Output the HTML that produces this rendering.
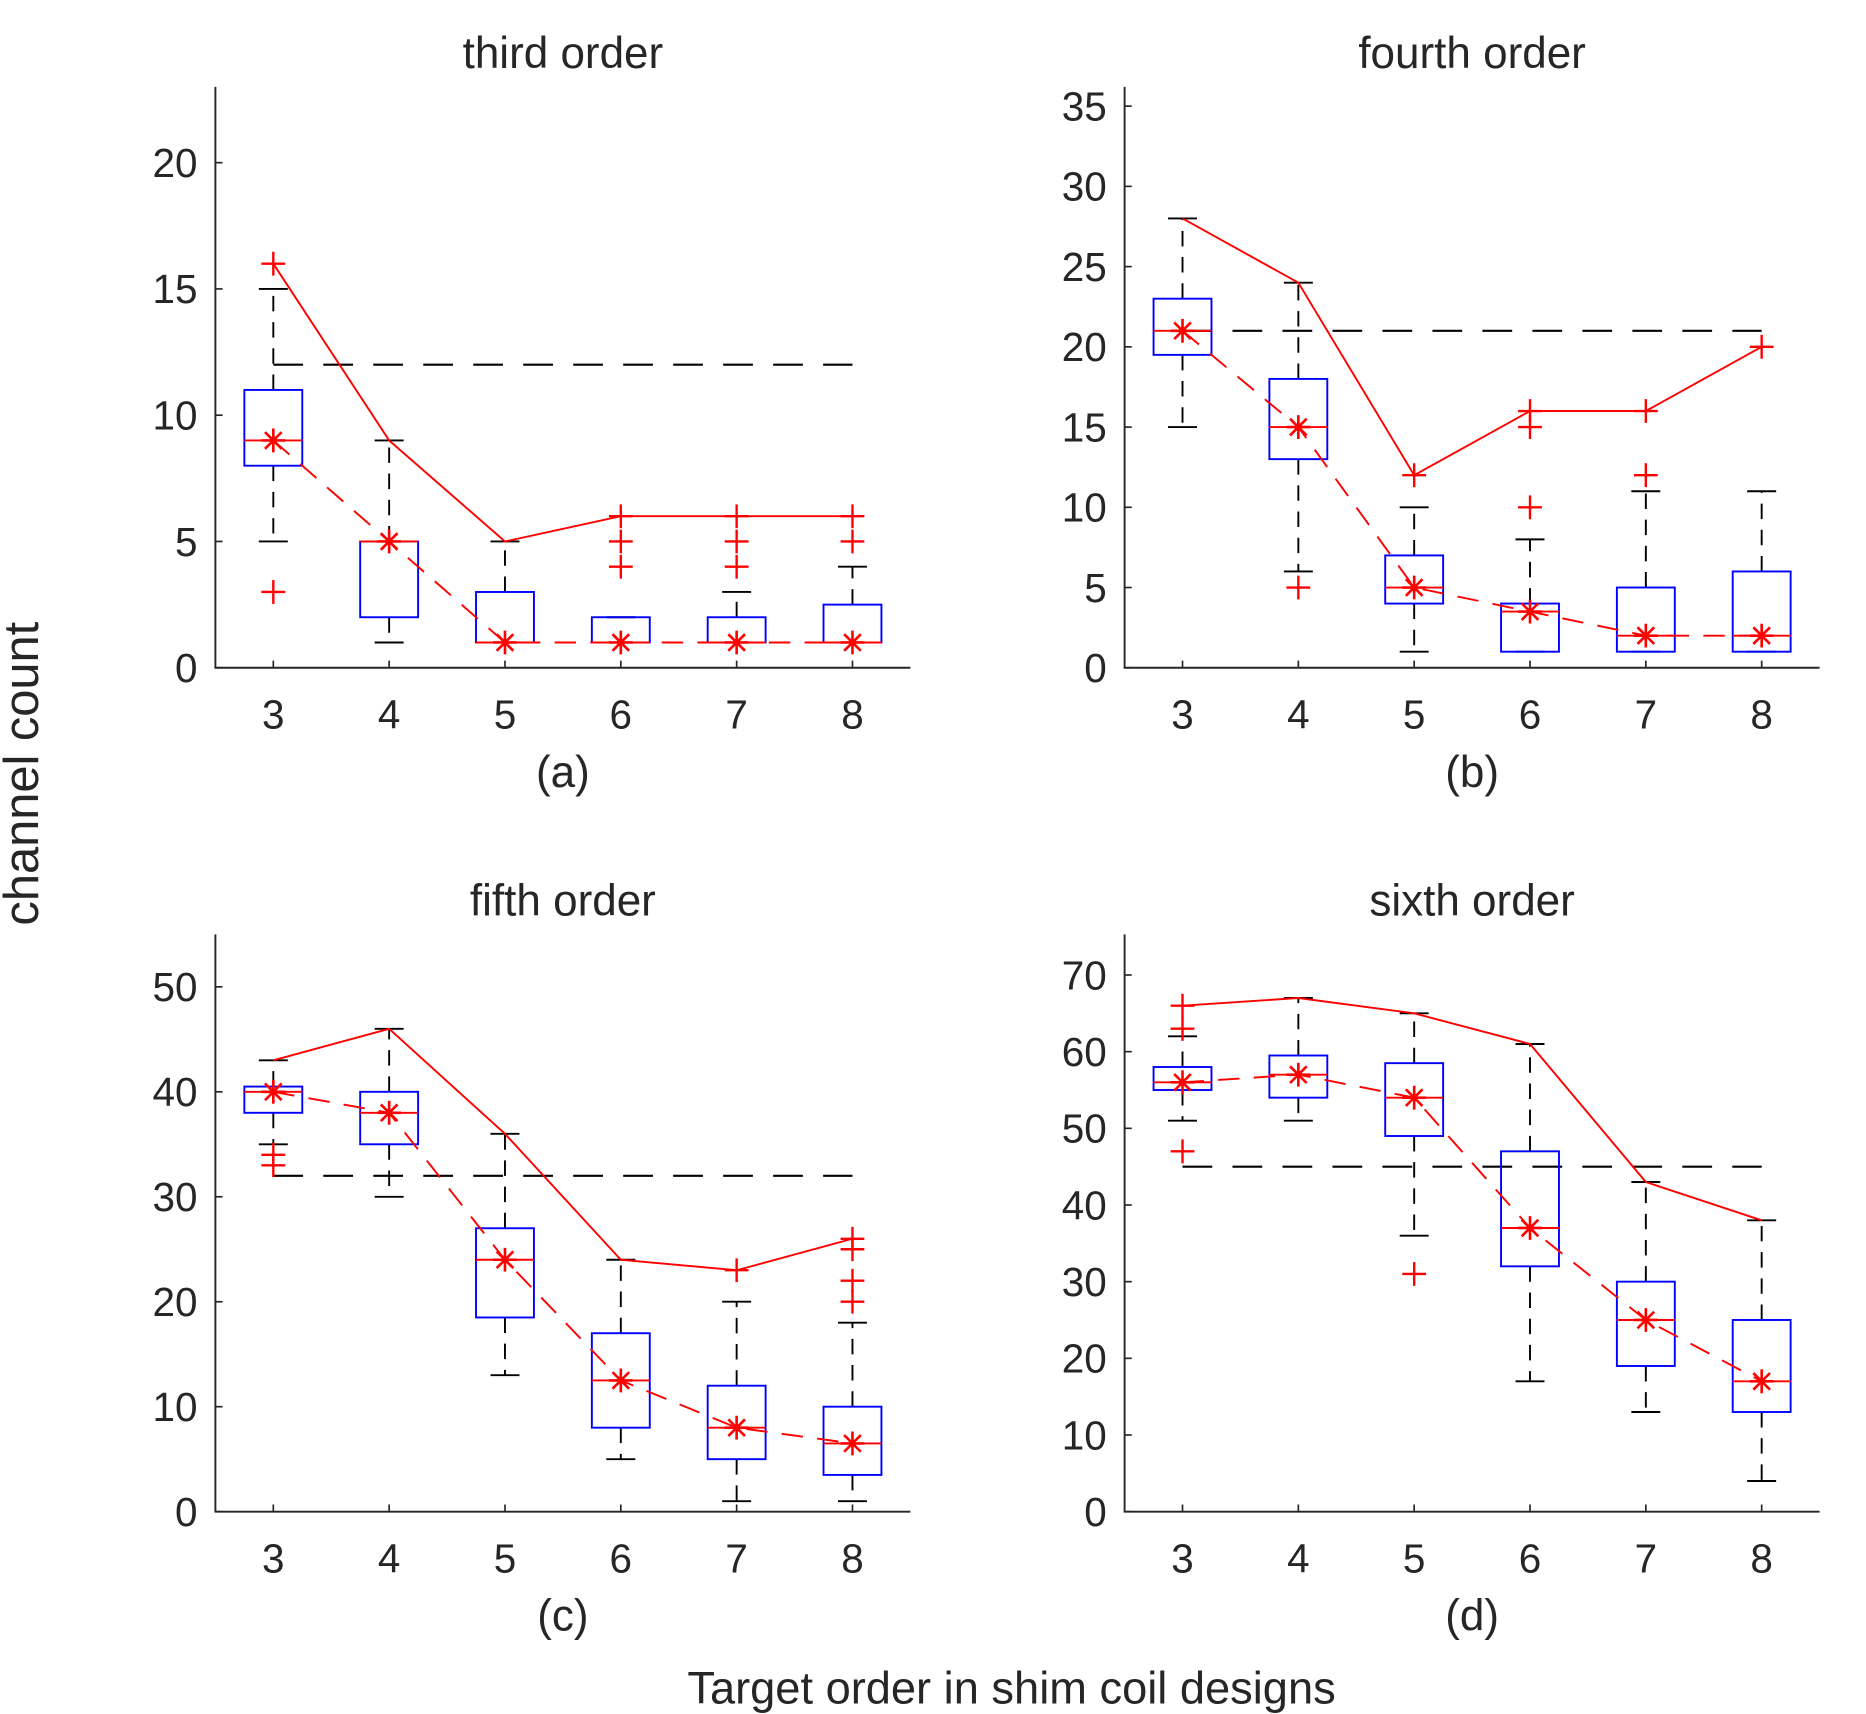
<!DOCTYPE html>
<html><head><meta charset="utf-8"><style>
html,body{margin:0;padding:0;background:#fff}
svg{display:block}
text{font-family:"Liberation Sans",Arial,sans-serif;fill:#262626}
</style></head><body>
<svg id="fig" width="1866" height="1714" viewBox="0 0 1568 1440" preserveAspectRatio="none" xmlns="http://www.w3.org/2000/svg">
<text x="0" y="0" transform="translate(32,650) rotate(-90)" text-anchor="middle" font-size="41">channel count</text>
<text x="850" y="1431" text-anchor="middle" font-size="38">Target order in shim coil designs</text>
</svg>
<script>
const categories=[3,4,5,6,7,8];
const titles=["third order","fourth order","fifth order","sixth order"];
const subLabels=["(a)","(b)","(c)","(d)"];
const yMax=[23,36.2,55,75.3];
const yTicks=[[0,5,10,15,20],[0,5,10,15,20,25,30,35],[0,10,20,30,40,50],[0,10,20,30,40,50,60,70]];
const q1=[[8,2,1,1,1,1],[19.5,13,4,1,1,1],[38,35,18.5,8,5,3.5],[55,54,49,32,19,13]];
const med=[[9,5,1,1,1,1],[21,15,5,3.5,2,2],[40,38,24,12.5,8,6.5],[56,57,54,37,25,17]];
const q3=[[11,5,3,2,2,2.5],[23,18,7,4,5,6],[40.5,40,27,17,12,10],[58,59.5,58.5,47,30,25]];
const wLo=[[5,1,1,1,1,1],[15,6,1,1,1,1],[35,30,13,5,1,1],[51,51,36,17,13,4]];
const wHi=[[15,9,5,2,3,4],[28,24,10,8,11,11],[43,46,36,24,20,18],[62,67,65,61,43,38]];
const outliers=[[[3,16],[],[],[4,5,6],[4,5,6],[5,6]],[[],[5],[12],[10,15,16],[12,16],[20]],[[33,34],[],[],[],[23],[20,22,25,26]],[[47,63,66],[],[31],[],[],[]]];
const maxLine=[[16,9,5,6,6,6],[28,24,12,16,16,20],[43,46,36,24,23,26],[66,67,65,61,43,38]];
const medLine=[[9,5,1,1,1,1],[21,15,5,3.5,2,2],[40,38,24,12.5,8,6.5],[56,57,54,37,25,17]];
const refLevel=[12,21,32,45];

const NS="http://www.w3.org/2000/svg";
const svg=document.getElementById('fig');
const lefts=[181,945,181,945], bottoms=[561,561,1270,1270], tops=[73,73,785,785];
const W=584;
function mk(tag,attrs,parent){const e=document.createElementNS(NS,tag);for(const k in attrs)e.setAttribute(k,attrs[k]);(parent||svg).appendChild(e);return e;}
for(let p=0;p<4;p++){
  const L=lefts[p],B=bottoms[p],T=tops[p];
  const xs=v=>L+(v-2.5)/6*W;
  const ys=v=>B-v/yMax[p]*(B-T);
  const g=mk('g',{});
  
  
  const t=mk('text',{x:L+W/2,y:T-16,'text-anchor':'middle','font-size':37},g);t.textContent=titles[p];
  
  const s=mk('text',{x:L+W/2,y:B+100,'text-anchor':'middle','font-size':37},g);s.textContent=subLabels[p];
  
  const ax=mk('path',{d:`M${L},${T}V${B}H${L+W}`,stroke:'#262626','stroke-width':1.6,fill:'none'},g);
  
  yTicks[p].forEach(v=>{mk('line',{x1:L,x2:L+6,y1:ys(v),y2:ys(v),stroke:'#262626','stroke-width':1.4},g);
    const tt=mk('text',{x:L-15,y:ys(v)+12,'text-anchor':'end','font-size':34},g);tt.textContent=v;
    });
  categories.forEach(c=>{mk('line',{x1:xs(c),x2:xs(c),y1:B,y2:B-6,stroke:'#262626','stroke-width':1.4},g);
    const tt=mk('text',{x:xs(c),y:B+51,'text-anchor':'middle','font-size':34},g);tt.textContent=c;
    });
  const rl=mk('line',{x1:xs(3),x2:xs(8),y1:ys(refLevel[p]),y2:ys(refLevel[p]),stroke:'#000','stroke-width':1.8,'stroke-dasharray':'25,17'},g);
  
  categories.forEach((c,i)=>{
    const x=xs(c),hw=0.25*W/6,cw=0.125*W/6;
    const wl=mk('path',{d:`M${x},${ys(q3[p][i])}V${ys(wHi[p][i])}M${x},${ys(q1[p][i])}V${ys(wLo[p][i])}`,stroke:'#000','stroke-width':1.6,'stroke-dasharray':'13,9',fill:'none'},g);
    
    mk('path',{d:`M${x-cw},${ys(wHi[p][i])}H${x+cw}M${x-cw},${ys(wLo[p][i])}H${x+cw}`,stroke:'#000','stroke-width':1.6},g);
    const bx=mk('rect',{x:x-hw,y:ys(q3[p][i]),width:2*hw,height:ys(q1[p][i])-ys(q3[p][i]),fill:'none',stroke:'#0000ff','stroke-width':1.6},g);
    
    mk('line',{x1:x-hw,x2:x+hw,y1:ys(med[p][i]),y2:ys(med[p][i]),stroke:'#ff0000','stroke-width':1.6},g);
    outliers[p][i].forEach(o=>{const y=ys(o);
      const m=mk('path',{d:`M${x-10},${y}H${x+10}M${x},${y-10}V${y+10}`,stroke:'#ff0000','stroke-width':2},g);
      });
  });
  const pts1=categories.map((c,i)=>xs(c)+','+ys(maxLine[p][i])).join(' ');
  const ml=mk('polyline',{points:pts1,fill:'none',stroke:'#ff0000','stroke-width':1.6},g);
  
  const pts2=categories.map((c,i)=>xs(c)+','+ys(medLine[p][i])).join(' ');
  const dl=mk('polyline',{points:pts2,fill:'none',stroke:'#ff0000','stroke-width':1.6,'stroke-dasharray':'18,12'},g);
  
  categories.forEach((c,i)=>{const x=xs(c),y=ys(medLine[p][i]),r=10,d=7;
    const st=mk('path',{d:`M${x},${y-r}V${y+r}M${x-d},${y-d}L${x+d},${y+d}M${x-d},${y+d}L${x+d},${y-d}M${x-r},${y}H${x+r}`,stroke:'#ff0000','stroke-width':2.2},g);
    });
}
</script>
</body></html>
